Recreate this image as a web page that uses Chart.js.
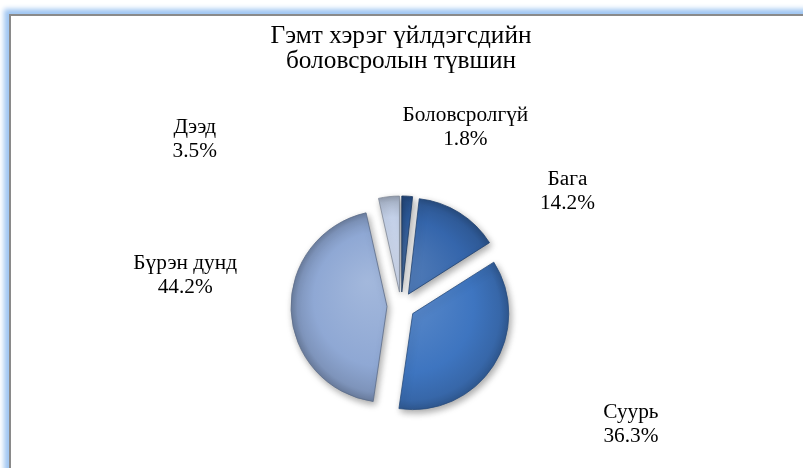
<!DOCTYPE html>
<html>
<head>
<meta charset="utf-8">
<script src="https://cdn.jsdelivr.net/npm/chart.js@4.4.1/dist/chart.umd.min.js"></script>
<style>
  html, body { margin: 0; padding: 0; background: #fff; overflow: hidden; }
  #frame {
    position: absolute; left: 9px; top: 14px; width: 840px; height: 520px;
    border: 2px solid #8a8a8a; background: #fff;
    box-shadow: 0 0 5px 5px rgba(160, 198, 242, 1);
  }
  #chart { position: absolute; left: 0; top: 0; }
</style>
</head>
<body>
<div id="frame"></div>
<canvas id="chart" width="803" height="468"></canvas>
<script>
// data
const categories = ['Боловсролгүй', 'Бага', 'Суурь', 'Бүрэн дунд', 'Дээд'];
const shares = [1.8, 14.2, 36.3, 44.2, 3.5];
const titleLines = ['Гэмт хэрэг үйлдэгсдийн', 'боловсролын түвшин'];

// style
const sliceColors = ['#2d5b9c', '#3566ac', '#3e75c0', '#8fa8d4', '#c4d1e9'];
const EXPLODE = 14;       // px each slice is pulled out
const PIE_RADIUS = 96;
const LABEL_LINE = 23.5;
// label spot per slice: [degrees clockwise from 12 o'clock, distance from pie centre]
const labelSpots = [[19.8, 190], [55.5, 202], [117.2, 258.5], [278.1, 218], [308.9, 265]];
const serif = '"Liberation Serif", "Times New Roman", serif';

function mix(hex, amt) {
  // amt > 0 lightens toward white, < 0 darkens toward black
  const n = parseInt(hex.slice(1), 16);
  let rgb = [(n >> 16) & 255, (n >> 8) & 255, n & 255];
  rgb = rgb.map(c => Math.round(amt > 0 ? c + (255 - c) * amt : c * (1 + amt)));
  return `rgb(${rgb[0]},${rgb[1]},${rgb[2]})`;
}

function pieCentre(chart) {
  const a = chart.chartArea;
  return { x: (a.left + a.right) / 2, y: (a.top + a.bottom) / 2 };
}

function midAngle(values, i) {
  const total = values.reduce((s, v) => s + v, 0);
  let before = 0;
  for (let k = 0; k < i; k++) before += values[k];
  return ((before + values[i] / 2) / total) * Math.PI * 2 - Math.PI / 2;
}

function sliceFill(context) {
  const chart = context.chart;
  const base = sliceColors[context.dataIndex];
  if (!chart.chartArea) return base;
  const c = pieCentre(chart);
  const m = midAngle(chart.data.datasets[0].data, context.dataIndex);
  const x = c.x + Math.cos(m) * EXPLODE, y = c.y + Math.sin(m) * EXPLODE;
  const g = chart.ctx.createRadialGradient(x - 20, y - 25, 0, x, y, PIE_RADIUS);
  g.addColorStop(0, mix(base, 0.18));
  g.addColorStop(0.7, base);
  g.addColorStop(0.92, mix(base, -0.12));
  g.addColorStop(1, mix(base, -0.25));
  return g;
}

// pull each arc out along its own bisector
const explode = {
  id: 'explode',
  afterDatasetUpdate(chart, args) {
    const c = pieCentre(chart);
    args.meta.data.forEach(arc => {
      const m = (arc.startAngle + arc.endAngle) / 2;
      arc.x = c.x + Math.cos(m) * EXPLODE;
      arc.y = c.y + Math.sin(m) * EXPLODE;
    });
  }
};

const softShadow = {
  id: 'softShadow',
  beforeDatasetDraw(chart) {
    const ctx = chart.ctx;
    ctx.save();
    ctx.shadowColor = 'rgba(0,0,0,0.35)';
    ctx.shadowBlur = 7;
    ctx.shadowOffsetX = 2;
    ctx.shadowOffsetY = 3;
  },
  afterDatasetDraw(chart) {
    chart.ctx.restore();
  }
};

const sliceLabels = {
  id: 'sliceLabels',
  afterDatasetsDraw(chart) {
    const ctx = chart.ctx;
    const c = pieCentre(chart);
    const values = chart.data.datasets[0].data;
    const total = values.reduce((s, v) => s + v, 0);
    ctx.save();
    ctx.font = '21.3px ' + serif;
    ctx.fillStyle = '#000';
    ctx.textAlign = 'center';
    ctx.textBaseline = 'middle';
    chart.data.labels.forEach((name, i) => {
      const t = labelSpots[i][0] * Math.PI / 180;
      const d = labelSpots[i][1];
      const x = c.x + Math.sin(t) * d, y = c.y - Math.cos(t) * d;
      ctx.fillText(name, x, y - LABEL_LINE / 2);
      ctx.fillText((values[i] / total * 100).toFixed(1) + '%', x, y + LABEL_LINE / 2);
    });
    ctx.restore();
  }
};

new Chart(document.getElementById('chart'), {
  type: 'pie',
  data: {
    labels: categories,
    datasets: [{
      data: shares,
      backgroundColor: sliceFill,
      borderColor: sliceColors.map(c => mix(c, -0.35)),
      borderWidth: 0.8,
    }]
  },
  options: {
    responsive: false,
    devicePixelRatio: 1,
    animation: false,
    events: [],
    radius: PIE_RADIUS,
    layout: { padding: { left: 0, right: 1, top: 0, bottom: 0 } },
    plugins: {
      legend: { display: false },
      tooltip: { enabled: false },
      title: {
        display: true,
        text: titleLines,
        color: '#000',
        font: { family: serif, size: 25.3, weight: 'normal', lineHeight: 0.98 },
        padding: { top: 24, bottom: 70.4 }
      }
    }
  },
  plugins: [explode, softShadow, sliceLabels]
});
</script>
</body>
</html>
